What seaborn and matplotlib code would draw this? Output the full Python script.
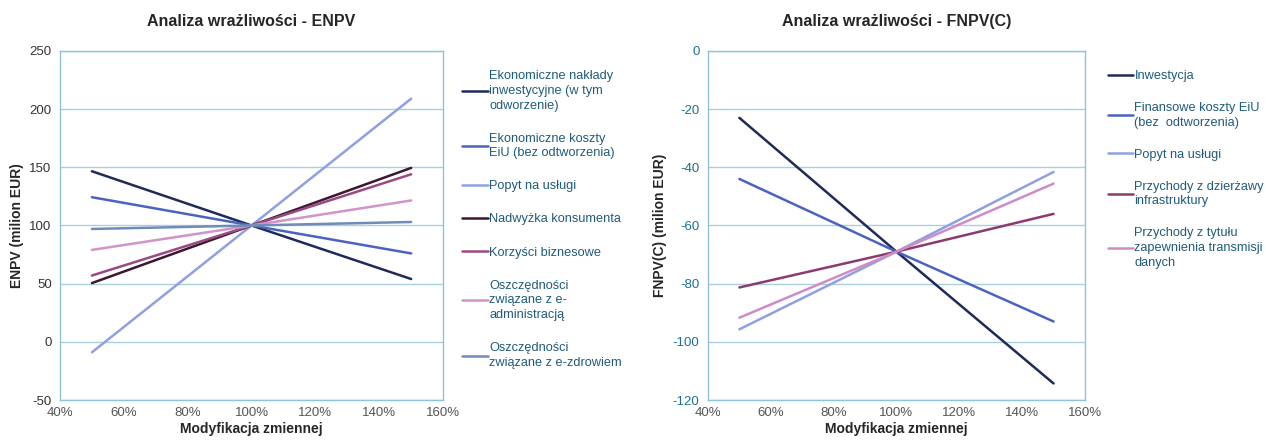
import numpy as np
import pandas as pd
import seaborn as sns
import matplotlib.pyplot as plt

# dane
mod = [0.5, 1.0, 1.5]

enpv_labels = [
    "Ekonomiczne nakłady\ninwestycyjne (w tym\nodworzenie)",
    "Ekonomiczne koszty\nEiU (bez odtworzenia)",
    "Popyt na usługi",
    "Nadwyżka konsumenta",
    "Korzyści biznesowe",
    "Oszczędności\nzwiązane z e-\nadministracją",
    "Oszczędności\nzwiązane z e-zdrowiem",
]
enpv_values = [
    [146.6, 100, 54.0],
    [124.3, 100, 76.0],
    [-9.0, 100, 209.0],
    [50.5, 100, 149.5],
    [57.0, 100, 144.0],
    [79.0, 100, 121.5],
    [97.0, 100, 103.0],
]
enpv_colors = ["#1f2a5a", "#4a63c0", "#8fa0e2", "#3a1830", "#9a4a82", "#d293c8", "#6f8cb8"]

fnpv_labels = [
    "Inwestycja",
    "Finansowe koszty EiU\n(bez  odtworzenia)",
    "Popyt na usługi",
    "Przychody z dzierżawy\ninfrastruktury",
    "Przychody z tytułu\nzapewnienia transmisji\ndanych",
]
fnpv_values = [
    [-23.0, -69, -114.3],
    [-44.0, -69, -93.0],
    [-95.7, -69, -41.6],
    [-81.3, -69, -56.0],
    [-91.7, -69, -45.6],
]
fnpv_colors = ["#1f2a5a", "#4a63c0", "#8fa0e2", "#8a3a6e", "#cf8cc4"]


def to_long(labels, values):
    rows = []
    for lab, vals in zip(labels, values):
        for m, v in zip(mod, vals):
            rows.append({"seria": lab, "mod": m, "val": v})
    return pd.DataFrame(rows)


sns.set_style("white")
plt.rcParams["font.family"] = ["Liberation Sans", "DejaVu Sans"]
plt.rcParams["axes.unicode_minus"] = False

fig = plt.figure(figsize=(12.66, 4.43), dpi=100)
ax1 = fig.add_axes([0.0474, 0.097, 0.3026, 0.788])
ax2 = fig.add_axes([0.5592, 0.097, 0.2978, 0.788])

grid_c = "#a9cfe0"
border_c = "#8ec3da"
legend_txt = "#1f5b7a"


def draw(ax, labels, values, colors, title, ylabel, ylim, ystep, ytick_color, legend_space, leg_x):
    df = to_long(labels, values)
    sns.lineplot(data=df, x="mod", y="val", hue="seria", hue_order=labels,
                 palette=colors, linewidth=1.8, ax=ax, legend=False)
    ax.set_xlim(0.4, 1.6)
    ax.set_ylim(*ylim)
    ax.set_xticks(np.arange(0.4, 1.61, 0.2))
    ax.set_xticklabels([f"{int(round(t * 100))}%" for t in np.arange(0.4, 1.61, 0.2)])
    ax.set_yticks(np.arange(ylim[0], ylim[1] + 1, ystep))
    ax.yaxis.grid(True, color=grid_c, linewidth=1)
    ax.set_axisbelow(True)
    for s in ax.spines.values():
        s.set_color(border_c)
        s.set_linewidth(1)
    ax.tick_params(axis="x", colors="#555555", labelsize=9.5, length=0, pad=5)
    ax.tick_params(axis="y", colors=ytick_color, labelsize=9.5, length=0, pad=6)
    ax.set_title(title, fontsize=11.5, fontweight="bold", pad=18)
    ax.set_xlabel("Modyfikacja zmiennej", fontsize=10, fontweight="bold", labelpad=2)
    ax.set_ylabel(ylabel, fontsize=10, fontweight="bold", labelpad=4)
    handles = [plt.Line2D([], [], color=c, linewidth=1.8) for c in colors]
    leg = ax.legend(handles, labels, loc="upper left", bbox_to_anchor=(leg_x, 0.945),
                    frameon=False, fontsize=9.2, handlelength=2.0, handletextpad=0.1,
                    labelspacing=legend_space, borderaxespad=0, borderpad=0)
    for t in leg.get_texts():
        t.set_color(legend_txt)
        t.set_linespacing(1.3)


draw(ax1, enpv_labels, enpv_values, enpv_colors, "Analiza wrażliwości - ENPV",
     "ENPV (milion EUR)", (-50, 250), 50, "#333333", 1.65, 1.05)
draw(ax2, fnpv_labels, fnpv_values, fnpv_colors, "Analiza wrażliwości - FNPV(C)",
     "FNPV(C) (milion EUR)", (-120, 0), 20, "#1a7094", 1.56, 1.06)

fig.savefig("out.png", dpi=100)
